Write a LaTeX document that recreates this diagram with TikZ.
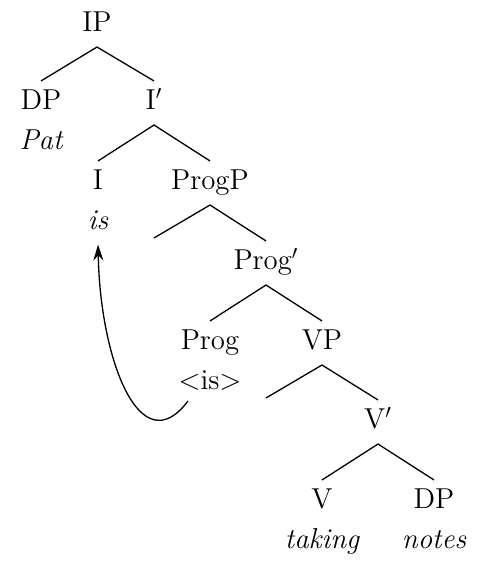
\documentclass[tikz,border=0pt]{standalone}
\usetikzlibrary{arrows.meta, positioning}

\begin{document}
\begin{tikzpicture}[
  x=0.5pt, y=0.5pt,
  font=\fontsize{14.4}{17}\selectfont,
  cat/.style = {inner xsep=0pt, inner ysep=7.6pt, outer sep=0pt, text height=0.683em, text depth=0pt},
  word/.style = {anchor=base, inner sep=5pt, font=\fontsize{14.4}{17}\selectfont\itshape},
  branch/.style = {line width=0.65pt},
  move/.style = {line width=0.65pt, shorten >=2pt, -{Stealth[length=8pt, width=5pt]}}
  ]
  \useasboundingbox (0,0) rectangle (478,561);

    % Categories
  \node[cat] (ip) at (97,536) {IP};
  \node[cat] (dp) at (41,458) {DP};
  \node[cat] (ibar) at (154,458) {I$'$};
  \node[cat] (i) at (98,378) {I};
  \node[cat] (progp) at (210,378) {ProgP};
  \node[cat] (progbar) at (266,298) {Prog$'$};
  \node[cat] (prog) at (210,218) {Prog};
  \node[cat] (vp) at (322,218) {VP};
  \node[cat] (vbar) at (378,139) {V$'$};
  \node[cat] (v) at (322,59) {V};
  \node[cat] (dpobj) at (434,59) {DP};

    % Empty specifiers
  \coordinate (progspec) at (154,323);
  \coordinate (vspec) at (266,163);

    % Words
  \node[word] (pat) at ([yshift=-20pt]dp.base) {Pat};
  \node[word] (is) at ([yshift=-20pt]i.base) {is};
  \node[word, font=\fontsize{14.4}{17}\selectfont] (trace) at ([yshift=-20pt]prog.base) {$<$is$>$};
  \node[word] (taking) at ([yshift=-20pt]v.base) {taking};
  \node[word] (notes) at ([yshift=-20pt]dpobj.base) {notes};

    % Branches
  \draw[branch] (dp.north) -- (ip.south) -- (ibar.north);
  \draw[branch] (i.north) -- (ibar.south) -- (progp.north);
  \draw[branch] (progspec) -- (progp.south) -- (progbar.north);
  \draw[branch] (prog.north) -- (progbar.south) -- (vp.north);
  \draw[branch] (vspec) -- (vp.south) -- (vbar.north);
  \draw[branch] (v.north) -- (vbar.south) -- (dpobj.north);

    % Head movement
  \draw[move] ([xshift=-11pt]trace.south) .. controls +(-48,-64) and +(2,-118) .. (is.south);

\end{tikzpicture}
\end{document}
